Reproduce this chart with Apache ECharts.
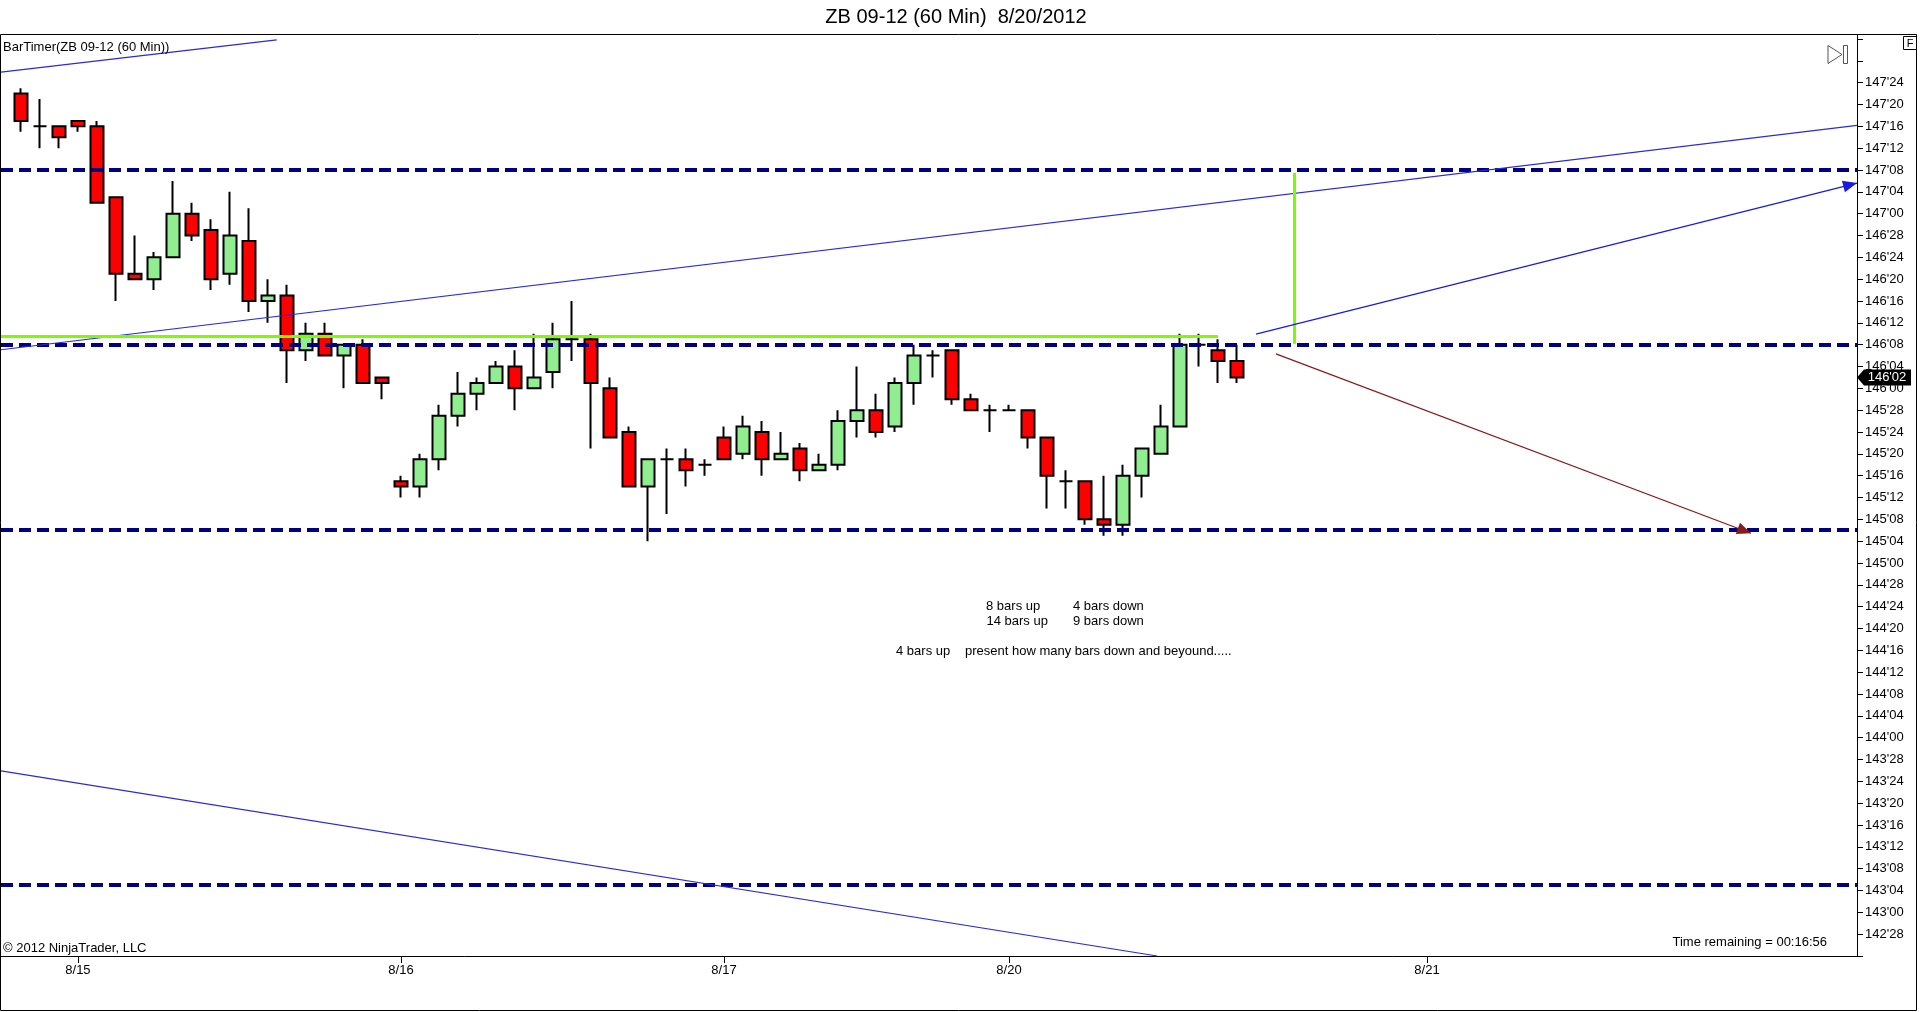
<!DOCTYPE html>
<html><head><meta charset="utf-8">
<script src="https://cdn.jsdelivr.net/npm/echarts@6/dist/echarts.min.js"></script>
<style>html,body{margin:0;padding:0;background:#fff}#c{width:1920px;height:1012px}</style>
</head><body><div id="c"></div>
<script>
// ---- data (prices in 32nds notation) ----
const opens = [
"147'22","147'16","147'16","147'17","147'16","147'03","146'21","146'20","146'24","147'00",
"146'29","146'21","146'27","146'16","146'17","146'07","146'10","146'06","146'08","146'02",
"145'15","145'14","145'19","145'27","145'31","146'01","146'04","146'00","146'03","146'09",
"146'09","146'00","145'24","145'14","145'19","145'19","145'18","145'23","145'20","145'24",
"145'19","145'21","145'17","145'18","145'26","145'28","145'25","146'01","146'06","146'07",
"145'30","145'28","145'28","145'28","145'23","145'15","145'15","145'08","145'07","145'16",
"145'20","145'25","146'08","146'07","146'05"];
const highs = [
"147'23","147'21","147'16","147'17","147'17","147'03","146'28","146'25","147'06","147'02",
"146'31","147'04","147'01","146'20","146'19","146'12","146'12","146'08","146'09","146'02",
"145'16","145'20","145'29","146'03","146'02","146'05","146'07","146'10","146'12","146'16",
"146'10","146'02","145'25","145'19","145'21","145'21","145'19","145'25","145'27","145'26",
"145'24","145'22","145'20","145'28","146'04","145'31","146'02","146'08","146'07","146'07",
"145'31","145'29","145'29","145'28","145'23","145'17","145'15","145'16","145'18","145'21",
"145'29","146'10","146'10","146'09","146'08"];
const lows = [
"147'15","147'12","147'12","147'15","147'02","146'16","146'20","146'18","146'24","146'27",
"146'18","146'19","146'14","146'12","146'01","146'05","146'06","146'00","146'01","145'30",
"145'12","145'12","145'17","145'25","145'28","146'01","145'28","146'00","146'00","146'05",
"145'21","145'23","145'14","145'04","145'09","145'14","145'16","145'19","145'19","145'16",
"145'19","145'15","145'17","145'17","145'23","145'23","145'24","145'29","146'02","145'29",
"145'28","145'24","145'28","145'21","145'10","145'10","145'07","145'05","145'05","145'12",
"145'20","145'25","146'04","146'01","146'01"];
const closes = [
"147'17","147'16","147'14","147'16","147'02","146'21","146'20","146'24","147'00","146'28",
"146'20","146'28","146'16","146'17","146'07","146'10","146'06","146'08","146'01","146'01",
"145'14","145'19","145'27","145'31","146'01","146'04","146'00","146'02","146'09","146'09",
"146'01","145'23","145'14","145'19","145'19","145'17","145'18","145'19","145'25","145'19",
"145'20","145'17","145'18","145'26","145'28","145'24","146'01","146'06","146'06","145'30",
"145'28","145'28","145'28","145'23","145'16","145'15","145'08","145'07","145'16","145'21",
"145'25","146'08","146'08","146'05","146'02"];

const dateLabels = ['8/15', '8/16', '8/17', '8/20', '8/21'];
const dateBars = [3, 20, 37, 52, 74];

const levelLines = ["147'08", "146'08", "145'06", "143'05"];
const trendUpper = [[-1.05, 146.221], [96.63, 147.505]];
const trendUpperShort = [[-1.05, 147.81], [13.46, 147.995]];
const trendLower = [[-1.05, 143.81], [59.8, 142.75]];
const arrowUp = [[65, 146.31], [96.63, 147.175]];
const arrowDown = [[66.05, 146.197], [91.05, 145.17]];
const greenH = [[-1.05, 146.30], [63, 146.30]];
const greenV = [[67, 146.255], [67, 147.234]];
const lastPrice = "146'02";

const xRange = [-1.05, 96.63];
const yRange = [142.75, 148];
const yStep = 0.125;

// ---- helpers ----
const P = s => { const [a, b] = s.split("'"); return +a + (+b) / 32; };
const fmt = v => { const w = Math.floor(v + 1e-9); const t = Math.round((v - w) * 32); return w + "'" + String(t).padStart(2, '0'); };
const FONT = "'Liberation Sans', Arial, sans-serif";

const candles = opens.map((o, i) => [i, P(o), P(closes[i]), P(lows[i]), P(highs[i])]);

const seg = (pts, color, width, endSym) => {
  const a = { coord: pts[0], symbol: 'none' };
  const b = { coord: pts[1], symbol: endSym ? 'triangle' : 'none' };
  if (endSym) { b.symbolSize = endSym; b.symbolOffset = [0, endSym[1] / 2]; }
  return [Object.assign(a, { lineStyle: { color, width, type: 'solid' } }), b];
};

const markLines = [];
levelLines.forEach(l => markLines.push({ yAxis: P(l), symbol: 'none', lineStyle: { color: '#000080', width: 4, type: [12, 6] } }));
markLines.push(seg(trendUpper, '#2a2ad8', 1.2));
markLines.push(seg(trendUpperShort, '#2a2ad8', 1.2));
markLines.push(seg(trendLower, '#2a2ad8', 1.2));
markLines.push(seg(greenH, '#7CFC00', 3));
markLines.push(seg(greenV, '#7CFC00', 3));
markLines.push(seg(arrowUp, '#1a1ae0', 1.2, [12, 14]));
markLines.push(seg(arrowDown, '#8b1a1a', 1.2, [12, 14]));

const chart = echarts.init(document.getElementById('c'), null, { renderer: 'canvas' });

const txt = (text, x, y, size, align) => ({
  type: 'text', x, y, z: 100,
  style: { text, fill: '#000', font: size + 'px ' + FONT, textAlign: align || 'left', textVerticalAlign: 'middle' }
});

chart.setOption({
  animation: false,
  backgroundColor: '#fff',
  grid: { left: 1, right: 63, top: 39, bottom: 56, outerBoundsMode: 'none', containLabel: false },
  xAxis: {
    type: 'value', min: xRange[0], max: xRange[1],
    axisLine: { show: true, onZero: false, lineStyle: { color: '#000', width: 1 } },
    axisTick: { show: true, length: 7, customValues: dateBars, lineStyle: { color: '#000' } },
    axisLabel: {
      customValues: dateBars, margin: 8, color: '#000', fontSize: 13, fontFamily: FONT,
      formatter: v => dateLabels[dateBars.indexOf(Math.round(v))] || ''
    },
    splitLine: { show: false }
  },
  yAxis: {
    type: 'value', position: 'right', min: yRange[0], max: yRange[1], interval: yStep,
    axisLine: { show: true, onZero: false, lineStyle: { color: '#000', width: 1 } },
    axisTick: { show: true, length: 6, inside: false, lineStyle: { color: '#000' } },
    axisLabel: {
      margin: 8, color: '#000', fontSize: 13, fontFamily: FONT,
      showMinLabel: true, showMaxLabel: true,
      formatter: v => (v > 147.8 || v < 142.8) ? '' : fmt(v)
    },
    splitLine: { show: false }
  },
  series: [{
    type: 'candlestick',
    data: candles,
    encode: { x: 0, y: [1, 2, 3, 4] },
    barWidth: 14,
    clip: false,
    silent: true,
    itemStyle: {
      color: '#90EE90', color0: '#FF0000',
      borderColor: '#000', borderColor0: '#000', borderColorDoji: '#000',
      borderWidth: 2
    },
    markLine: {
      silent: true, animation: false, symbol: ['none', 'none'],
      label: { show: false },
      emphasis: { disabled: true },
      data: markLines
    },
    markPoint: {
      silent: true, animation: false,
      data: [{
        coord: [xRange[1], P(lastPrice)],
        symbol: 'path://M0,8L7,0L54,0L54,16L7,16Z',
        symbolSize: [54, 16], symbolOffset: [27, 0],
        itemStyle: { color: '#000' },
        label: { show: true, formatter: lastPrice, color: '#fff', fontSize: 13, fontFamily: FONT, position: 'inside', offset: [3, 0] }
      }]
    }
  }],
  graphic: [
    { type: 'rect', z: 90, shape: { x: 0.5, y: 34.5, width: 1916, height: 976 }, style: { fill: 'none', stroke: '#000', lineWidth: 1 } },
    { type: 'line', z: 90, shape: { x1: 1857.5, y1: 34, x2: 1857.5, y2: 956 }, style: { stroke: '#000', lineWidth: 1 } },
    { type: 'rect', z: 90, shape: { x: 1903.5, y: 36.5, width: 13, height: 13 }, style: { fill: '#fff', stroke: '#000', lineWidth: 1 } },
    { type: 'text', z: 91, x: 1910, y: 43.5, style: { text: 'F', fill: '#000', font: '11px ' + FONT, textAlign: 'center', textVerticalAlign: 'middle' } },
    { type: 'polygon', z: 90, shape: { points: [[1828, 45.5], [1842, 54.5], [1828, 63.5]] }, style: { fill: 'none', stroke: '#555', lineWidth: 1 } },
    { type: 'rect', z: 90, shape: { x: 1843.5, y: 45.5, width: 4, height: 18 }, style: { fill: 'none', stroke: '#555', lineWidth: 1 } },
    txt('ZB 09-12 (60 Min)  8/20/2012', 956, 17, 20, 'center'),
    txt('BarTimer(ZB 09-12 (60 Min))', 3, 47.5, 13),
    txt('© 2012 NinjaTrader, LLC', 3, 948, 13),
    txt('Time remaining = 00:16:56', 1827, 942, 13, 'right'),
    txt('8 bars up', 986, 606.5, 13),
    txt('4 bars down', 1073, 606.5, 13),
    txt('14 bars up', 986.5, 621.5, 13),
    txt('9 bars down', 1073, 621.5, 13),
    txt('4 bars up', 896, 651.5, 13),
    txt('present how many bars down and beyound.....', 965, 651.5, 13)
  ]
});
</script>
</body></html>
